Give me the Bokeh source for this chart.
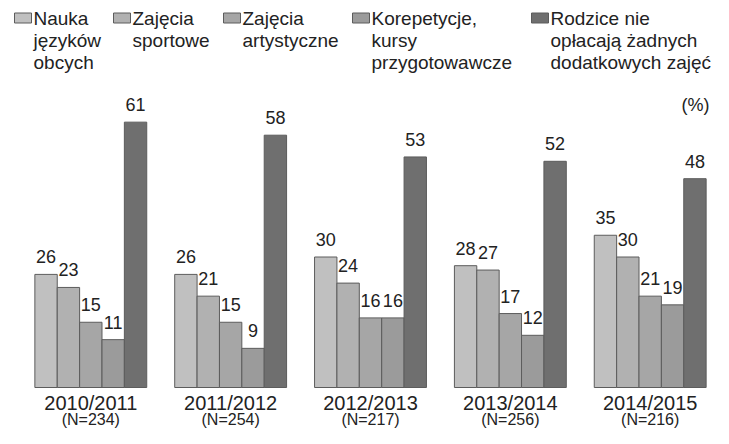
from bokeh.plotting import figure
from bokeh.models import Range1d
from bokeh.core.properties import value
from bokeh.embed import file_html
from bokeh.resources import INLINE

# ---------------- data ----------------
years = ["2010/2011", "2011/2012", "2012/2013", "2013/2014", "2014/2015"]
sample_sizes = [234, 254, 217, 256, 216]
series_labels = [
    ["Nauka", "języków", "obcych"],
    ["Zajęcia", "sportowe"],
    ["Zajęcia", "artystyczne"],
    ["Korepetycje,", "kursy", "przygotowawcze"],
    ["Rodzice nie", "opłacają żadnych", "dodatkowych zajęć"],
]
languages = [26, 26, 30, 28, 35]
sports = [23, 21, 24, 27, 30]
arts = [15, 15, 16, 17, 21]
tutoring = [11, 9, 16, 12, 19]
no_extra = [61, 58, 53, 52, 48]
series_values = [languages, sports, arts, tutoring, no_extra]
unit_label = "(%)"

# ---------------- style / layout ----------------
FILLS = ["#c0c0c0", "#b1b1b1", "#a6a6a6", "#9b9b9b", "#6f6f6f"]
EDGE = "#5c5c5c"
TXT = "#222222"
FONT = "Liberation Sans"

W, H = 713, 428
X0, DX = 90.3, 139.85     # pixel of first group centre, px per group
Y0, DY = 387.0, 4.35      # pixel of baseline, px per percent
BW = 0.16                 # bar width in group units


def xd(px):
    return (px - X0) / DX


def yd(py):
    return (Y0 - py) / DY


p = figure(width=W, height=H,
           x_range=Range1d(xd(0), xd(W)),
           y_range=Range1d(yd(H), yd(0)),
           output_backend="svg", toolbar_location=None, min_border=0)
p.axis.visible = False
p.grid.visible = False
p.outline_line_color = None
p.background_fill_color = "white"
p.border_fill_color = "white"

n = len(years)
for j, vals in enumerate(series_values):
    xs = [i + (j - 2) * BW for i in range(n)]
    p.vbar(x=xs, top=vals, bottom=0, width=BW,
           fill_color=FILLS[j], line_color=EDGE, line_width=1)
    p.text(x=xs, y=[v + 17.5 / DY for v in vals], text=[str(v) for v in vals],
           text_align="center", text_baseline="middle",
           text_font=value(FONT), text_font_size="18px", text_color=TXT)

# category labels
p.text(x=list(range(n)), y=[yd(402)] * n, text=years,
       text_align="center", text_baseline="middle",
       text_font=value(FONT), text_font_size="20px", text_color=TXT)
p.text(x=list(range(n)), y=[yd(419)] * n,
       text=["(N=%d)" % s for s in sample_sizes],
       text_align="center", text_baseline="middle",
       text_font=value(FONT), text_font_size="16px", text_color=TXT)

# unit label
p.text(x=[xd(695)], y=[yd(104)], text=[unit_label],
       text_align="center", text_baseline="middle",
       text_font=value(FONT), text_font_size="18px", text_color=TXT)

# legend
legend_text_x = [33, 132, 242, 371, 550]
line_centres = [18.3, 40.3, 62.3]
for k, lines in enumerate(series_labels):
    tx = legend_text_x[k]
    p.rect(x=[xd(tx - 10.5)], y=[yd(17.5)], width=17, height=10,
           width_units="screen", height_units="screen",
           fill_color=FILLS[k], line_color=EDGE, line_width=1)
    p.text(x=[xd(tx)] * len(lines), y=[yd(c) for c in line_centres[:len(lines)]],
           text=lines, text_align="left", text_baseline="middle",
           text_font=value(FONT), text_font_size="19px", text_color=TXT)

open("out.html", "w").write(file_html(p, INLINE))
